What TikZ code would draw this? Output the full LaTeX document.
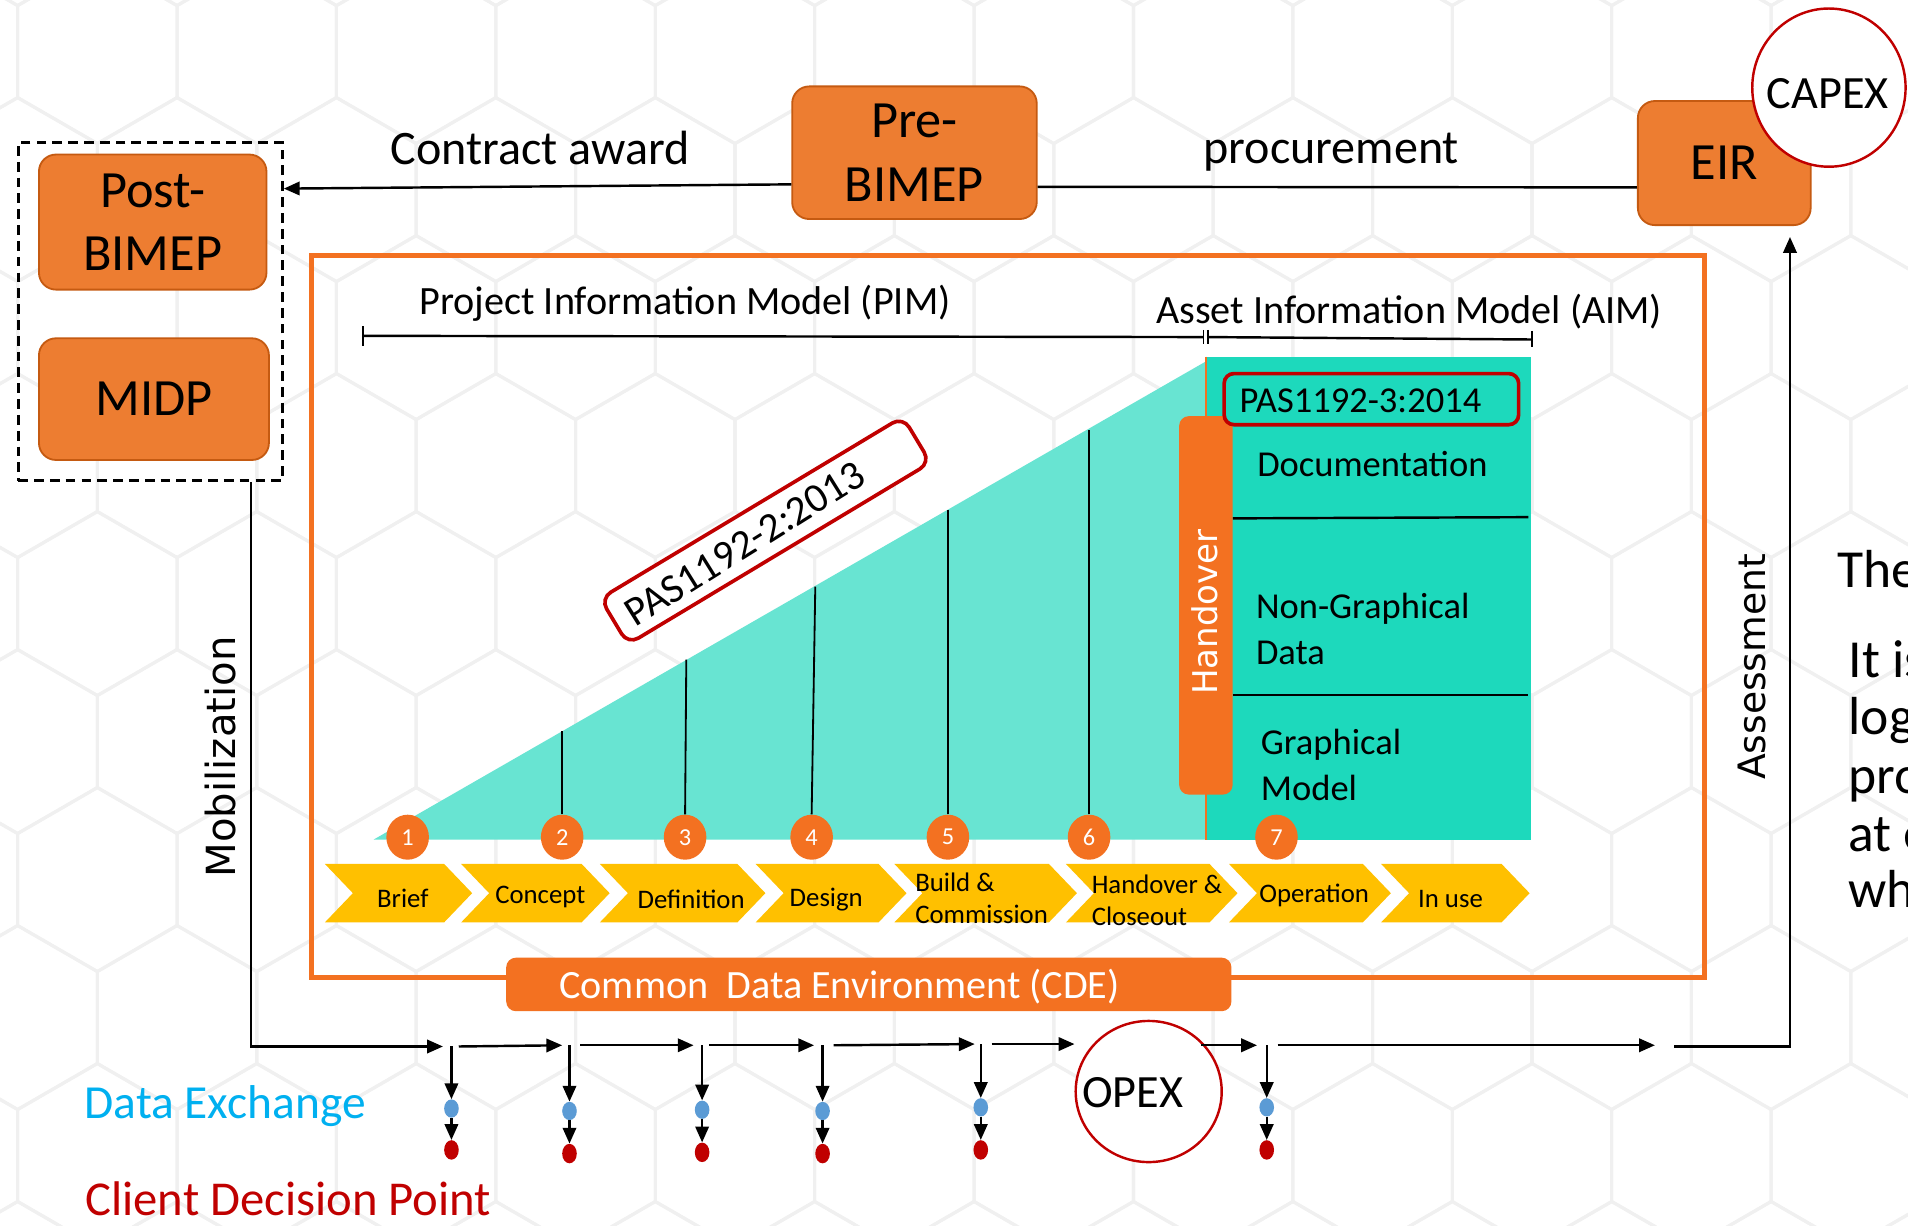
\documentclass[tikz,border=0pt]{standalone}
\usepackage{fontspec}
\setmainfont{Carlito}
\newfontfamily\dvs{DejaVu Sans}
\usetikzlibrary{arrows.meta,shapes.geometric,calc}
\definecolor{boxor}{HTML}{ED7D31}
\definecolor{boxbd}{HTML}{C55A11}
\definecolor{fror}{HTML}{F37121}
\definecolor{tealL}{HTML}{68E4D2}
\definecolor{tealD}{HTML}{1DD9BC}
\definecolor{chevy}{HTML}{FFC000}
\definecolor{redc}{HTML}{C00000}
\definecolor{dxblue}{HTML}{5B9BD5}
\definecolor{dxcyan}{HTML}{00B0F0}
\newcommand\fsz[2]{\fontsize{#1}{#2}\selectfont}
\begin{document}
\begin{tikzpicture}[x=1pt,y=-1pt,
  obox/.style={rounded corners=14pt, fill=boxor, draw=boxbd, line width=1.5pt, align=center, font=\fsz{43}{52}, inner sep=0pt},
  arr/.style={line width=2pt, -{Triangle[length=13pt,width=11pt]}},
  numc/.style={ellipse, fill=fror, minimum width=35pt, minimum height=37pt, inner sep=0pt, text=white, font=\fsz{20}{24}},
  chevtxt/.style={font=\fsz{22}{26}, inner sep=0pt},
  tealtxt/.style={font=\fsz{30}{38}, anchor=west, align=left, inner sep=0pt},
  ring/.style={ellipse, draw=redc, line width=2pt, fill=white, inner sep=0pt},
  bdot/.style={ellipse, fill=dxblue, minimum width=12pt, minimum height=15pt, inner sep=0pt},
  rdot/.style={ellipse, fill=redc, minimum width=12pt, minimum height=16pt, inner sep=0pt},
  sidetxt/.style={font=\fsz{44}{47}, anchor=base west, inner sep=0pt},
  hexc/.style={draw=black!6, line width=2.5pt}
]
\useasboundingbox (0,0) rectangle (1568,1007);
\clip (0,0) rectangle (1568,1007);
\fill[white] (0,0) rectangle (1568,1007);
% background hexagon texture
\foreach \j in {0,...,11}{
  \foreach \i in {0,...,14}{
    \pgfmathsetmacro\cx{1128+(\i-9)*131+mod(\j+1,2)*65.5}
    \pgfmathsetmacro\cy{949.6+(\j-9)*113.4}
    \draw[hexc] (\cx,\cy-75.6) -- (\cx+65.5,\cy-37.8) -- (\cx+65.5,\cy+37.8) -- (\cx,\cy+75.6) -- (\cx-65.5,\cy+37.8) -- (\cx-65.5,\cy-37.8) -- cycle;
  }
}

% top boxes
\node[draw, dashed, dash pattern=on 8pt off 5pt, line width=2.5pt, minimum width=217pt, minimum height=278pt, inner sep=0pt] (dash) at (123.5,256) {};
\node[obox, minimum width=187pt, minimum height=111pt] (postb) at (125.5,182.5) {Post-\\BIMEP};
\node[obox, minimum width=189pt, minimum height=100pt] (midp) at (126.5,328) {MIDP};
\node[obox, minimum width=201pt, minimum height=109pt] (preb) at (751.5,125.5) {Pre-\\BIMEP};
\node[obox, minimum width=142pt, minimum height=102pt] (eir) at (1417,134) {EIR};
\node[ring, minimum width=126pt, minimum height=130pt] (capex) at (1503,72) {};
\node[font=\fsz{38}{44}, inner sep=0pt] (capext) at (1502,77) {CAPEX};

\node[font=\fsz{39.5}{46}] (contract) at (444,122) {Contract award};
\node[font=\fsz{39.5}{46}] (procure) at (1094,125) {procurement};
\draw[arr] ($(preb.west)+(0,26)$) -- ($(dash.east)+(0,-101)$);
\draw[line width=2pt] ($(preb.east)+(0,28)$) -- ($(eir.west)+(0,20)$);

% main frame
\node[draw=fror, line width=4pt, minimum width=1145pt, minimum height=593pt, inner sep=0pt] (frame) at (828.5,506.5) {};

% PIM / AIM
\node[font=\fsz{33}{39}] (pim) at (563,249) {Project Information Model (PIM)};
\node[font=\fsz{33}{39}] (aim) at (1158,256) {Asset Information Model (AIM)};
\coordinate (pimL) at (298,276);
\coordinate (pimR) at (989,277);
\coordinate (aimL) at (993,277);
\coordinate (aimR) at (1259,279);
\draw[line width=2pt] (pimL) -- (pimR);
\draw[line width=2pt] (aimL) -- (aimR);
\draw[line width=1.5pt] (298,268) -- (298,284) (989,271) -- (989,283) (993,271) -- (993,283) (1259,272) -- (1259,285);

% teal shapes
\fill[tealL] (307,690) -- (991,297) -- (991,690) -- cycle;
\fill[tealD] (991,293) rectangle (1258,690);
\draw[fror, line width=2pt] (991,293) -- (991,690);
\draw[line width=2pt] (1013,426) -- (1256,425);
\draw[line width=2pt] (1013,571) -- (1256,571);

\node[fill=fror, rounded corners=8pt, minimum width=44pt, minimum height=311pt, inner sep=0pt] (hobar) at (991,497.5) {};
\node[rotate=90, text=white, font=\dvs\fsz{28}{34}, inner sep=0pt] (hotxt) at (990,503) {Handover};

\node[draw=redc, line width=3pt, rounded corners=8pt, fill=tealD, minimum width=242pt, minimum height=42pt, inner sep=0pt] (pas3) at (1127,328) {};
\node[font=\fsz{30}{36}, inner sep=0pt] (pas3t) at (1118,329) {PAS1192-3:2014};
\node[tealtxt] (docu) at (1033,381) {Documentation};
\node[tealtxt] (ngd) at (1032,517) {Non-Graphical\\Data};
\node[tealtxt] (gm) at (1036,628.5) {Graphical\\Model};

\node[draw=redc, line width=3pt, rounded corners=10pt, fill=white, rotate=31, minimum width=290pt, minimum height=44pt, inner sep=0pt] (pas2) at (629,436) {};
\node[rotate=32, font=\fsz{34}{40}, inner sep=0pt] (pas2t) at (612,447) {PAS1192-2:2013};

% number circles
\node[numc] (n1) at (335,688) {1};
\node[numc] (n2) at (462,688) {2};
\node[numc] (n3) at (563,688) {3};
\node[numc] (n4) at (667,688) {4};
\node[numc] (n5) at (779,688) {5};
\node[numc] (n6) at (895,688) {6};
\node[numc] (n7) at (1049,688) {7};
\draw[line width=1.5pt] (n2.north) -- (462,601);
\draw[line width=1.5pt] (n3.north) -- (564,542);
\draw[line width=1.5pt] (n4.north) -- (670,482);
\draw[line width=1.5pt] (n5.north) -- (779,419);
\draw[line width=1.5pt] (n6.north) -- (895,353);

% chevrons
\foreach \a/\b in {267/388, 379/501, 493/629, 621/745, 735/885, 876/1017, 1010/1143, 1135/1257}{
  \fill[chevy] (\a,710) -- (\b-23,710) -- (\b,734) -- (\b-23,758) -- (\a,758) -- (\a+23,734) -- cycle;
}
\node[chevtxt] (c1) at (331,738) {Brief};
\node[chevtxt] (c2) at (444,737) {Concept};
\node[chevtxt] (c3) at (568,739) {Definition};
\node[chevtxt] (c4) at (679,739) {Design};
\node[chevtxt, anchor=west, align=left] (c5) at (752,738) {Build \&\\Commission};
\node[chevtxt, anchor=west, align=left] (c6) at (897,740) {Handover \&\\Closeout};
\node[chevtxt] (c7) at (1080,736) {Operation};
\node[chevtxt] (c8) at (1192,739) {In use};

% CDE
\node[fill=fror, rounded corners=8pt, minimum width=596pt, minimum height=44pt, inner sep=0pt] (cde) at (714,809) {};
\node[text=white, font=\fsz{33}{38}, inner sep=0pt] (cdet) at (690,811) {Common\ \ Data Environment (CDE)};

% side labels
\node[rotate=90, font=\dvs\fsz{33}{38}, inner sep=0pt] (mob) at (181,622) {Mobilization};
\node[rotate=90, font=\dvs\fsz{31}{37}, inner sep=0pt] (assess) at (1440,548) {Assessment};
\node[text=dxcyan, font=\fsz{39}{44}, inner sep=0pt] (dx) at (185,909) {Data Exchange};
\node[text=redc, font=\fsz{40}{44}, inner sep=0pt] (cdp) at (237,985) {Client Decision Point};

% right partial text (cut by the page edge)
\node[sidetxt] (r1) at (1510,483) {The};
\node[sidetxt] (r2) at (1519,557) {It is};
\node[sidetxt] (r3) at (1519,604) {log};
\node[sidetxt] (r4) at (1519,652) {pro};
\node[sidetxt] (r5) at (1519,700) {at e};
\node[sidetxt] (r6) at (1519,746) {wh};

% OPEX
\node[ring, minimum width=120pt, minimum height=116pt] (opex) at (944,897) {};
\node[font=\fsz{38}{44}, inner sep=0pt] (opext) at (931,898) {OPEX};

% bottom flow
\coordinate (j1) at (371,860);
\coordinate (j2) at (468,859);
\coordinate (j3) at (577,859);
\coordinate (j4) at (676,859);
\coordinate (j5) at (806,858);
\coordinate (j6) at (1041,859);
\node[bdot] (b1) at (371,911) {};
\node[bdot] (b2) at (468,913) {};
\node[bdot] (b3) at (577,912) {};
\node[bdot] (b4) at (676,913) {};
\node[bdot] (b5) at (806,910) {};
\node[bdot] (b6) at (1041,910) {};
\node[rdot] (d1) at (371,945) {};
\node[rdot] (d2) at (468,948) {};
\node[rdot] (d3) at (577,947) {};
\node[rdot] (d4) at (676,948) {};
\node[rdot] (d5) at (806,945) {};
\node[rdot] (d6) at (1041,945) {};
\draw[arr] ($(dash.south east)+(-27,0)$) |- ($(j1)+(-7,0)$);
\draw[arr] ($(j1)+(6,0)$) -- ($(j2)+(-6,0)$);
\draw[arr] ($(j2)+(9,0)$) -- ($(j3)+(-7,0)$);
\draw[arr] ($(j3)+(6,0)$) -- ($(j4)+(-7,0)$);
\draw[arr] ($(j4)+(9,0)$) -- ($(j5)+(-5,0)$);
\draw[arr] ($(j5)+(9,0)$) -- (opex.west |- j5);
\draw[arr] (opex.north east |- j6) -- ($(j6)+(-8,0)$);
\coordinate (g1) at (1360,859);
\coordinate (g2) at (1376,860);
\draw[arr] ($(j6)+(9,0)$) -- (g1);
\draw[arr] (g2) -| ($(eir.south)+(54,9)$);
\foreach \k in {1,...,6}{
  \draw[arr] (j\k) -- (b\k);
  \draw[arr] (b\k) -- (d\k);
}
\end{tikzpicture}
\end{document}
